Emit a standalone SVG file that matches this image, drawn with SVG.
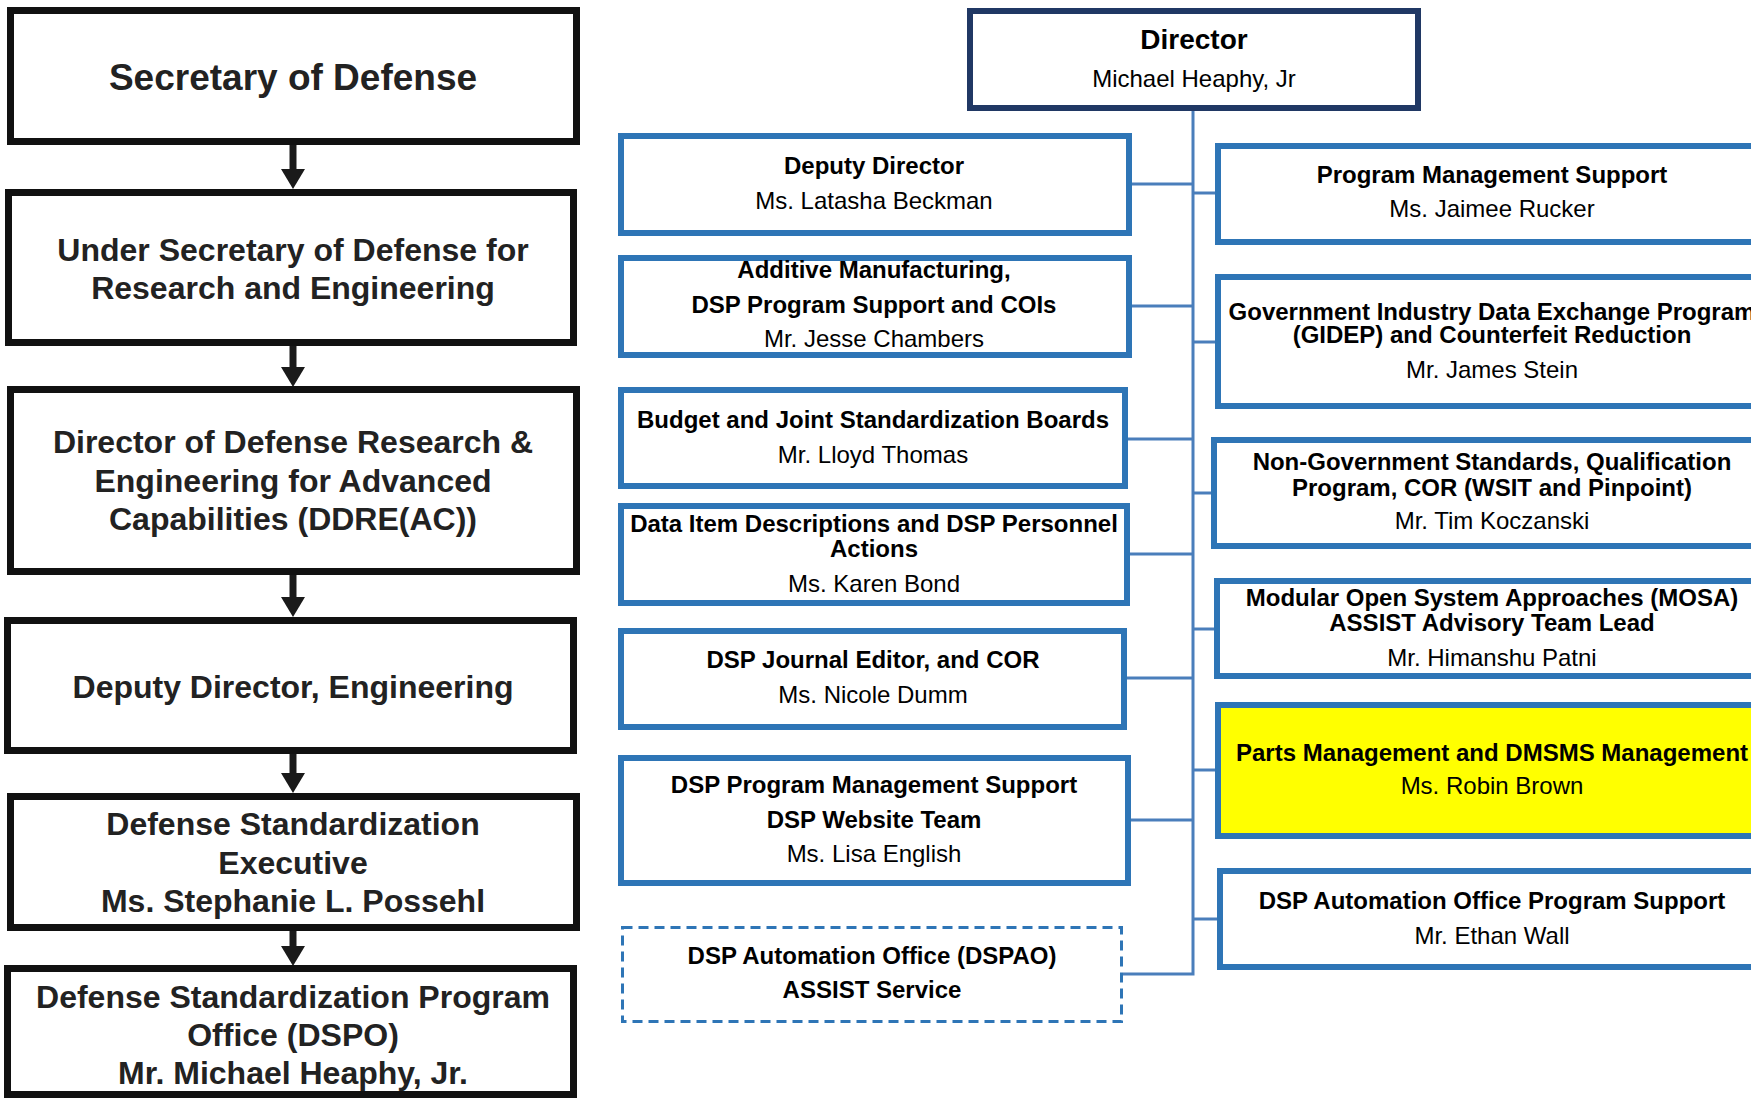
<svg xmlns="http://www.w3.org/2000/svg" width="1751" height="1098" viewBox="0 0 1751 1098">
<defs>
<style>
.lbox{fill:#fff;stroke:#111;stroke-width:7}
.bbox{fill:#fff;stroke:#2e75b6;stroke-width:6}
.dash{fill:#fff;stroke:#2e75b6;stroke-width:3;stroke-dasharray:10 6}
.dir{fill:#fff;stroke:#203864;stroke-width:6}
.lt{font-family:"Liberation Sans",Arial,sans-serif;font-weight:bold;font-size:32px;fill:#222;text-anchor:middle}
.bt{font-family:"Liberation Sans",Arial,sans-serif;font-weight:bold;font-size:24px;fill:#000;text-anchor:middle}
.nt{font-family:"Liberation Sans",Arial,sans-serif;font-size:24px;fill:#000;text-anchor:middle}
.arr{stroke:#1a1a1a;stroke-width:7;fill:none}
.con{stroke:#4a7ebb;stroke-width:3;fill:none}
</style>
<marker id="ah" markerUnits="userSpaceOnUse" viewBox="0 0 20 24" markerWidth="20" markerHeight="24" refX="0" refY="12" orient="auto">
<path d="M0,0 L20,12 L0,24 Z" fill="#1a1a1a"/>
</marker>
</defs>
<rect width="1751" height="1098" fill="#fff"/>

<g id="connectors">
<line class="arr" x1="293" y1="145" x2="293" y2="169" marker-end="url(#ah)"/>
<line class="arr" x1="293" y1="346" x2="293" y2="367" marker-end="url(#ah)"/>
<line class="arr" x1="293" y1="575" x2="293" y2="597" marker-end="url(#ah)"/>
<line class="arr" x1="293" y1="754" x2="293" y2="773" marker-end="url(#ah)"/>
<line class="arr" x1="293" y1="931" x2="293" y2="946" marker-end="url(#ah)"/>
<polyline class="con" points="1193,111 1193,974 1123,974"/>
<line class="con" x1="1132" y1="184" x2="1193" y2="184"/>
<line class="con" x1="1132" y1="306" x2="1193" y2="306"/>
<line class="con" x1="1128" y1="439" x2="1193" y2="439"/>
<line class="con" x1="1130" y1="554" x2="1193" y2="554"/>
<line class="con" x1="1127" y1="678" x2="1193" y2="678"/>
<line class="con" x1="1131" y1="820" x2="1193" y2="820"/>
<line class="con" x1="1193" y1="193" x2="1215" y2="193"/>
<line class="con" x1="1193" y1="342" x2="1215" y2="342"/>
<line class="con" x1="1193" y1="493" x2="1211" y2="493"/>
<line class="con" x1="1193" y1="629" x2="1214" y2="629"/>
<line class="con" x1="1193" y1="770" x2="1215" y2="770"/>
<line class="con" x1="1193" y1="919" x2="1217" y2="919"/>
</g>

<g id="secdef">
<rect class="lbox" x="10.5" y="10.5" width="566" height="131"/>
<text class="lt" x="293" y="90" style="font-size:37px">Secretary of Defense</text>
</g>
<g id="usdre">
<rect class="lbox" x="8.5" y="192.5" width="565" height="150"/>
<text class="lt" x="293" y="261">Under Secretary of Defense for</text>
<text class="lt" x="293" y="299">Research and Engineering</text>
</g>
<g id="ddre">
<rect class="lbox" x="10.5" y="389.5" width="566" height="182"/>
<text class="lt" x="293" y="453">Director of Defense Research &amp;</text>
<text class="lt" x="293" y="492">Engineering for Advanced</text>
<text class="lt" x="293" y="530">Capabilities (DDRE(AC))</text>
</g>
<g id="dde">
<rect class="lbox" x="7.5" y="620.5" width="566" height="130"/>
<text class="lt" x="293" y="698">Deputy Director, Engineering</text>
</g>
<g id="dse">
<rect class="lbox" x="10.5" y="796.5" width="566" height="131"/>
<text class="lt" x="293" y="835">Defense Standardization</text>
<text class="lt" x="293" y="874">Executive</text>
<text class="lt" x="293" y="912">Ms. Stephanie L. Possehl</text>
</g>
<g id="dspo">
<rect class="lbox" x="7.5" y="968.5" width="566" height="126"/>
<text class="lt" x="293" y="1008">Defense Standardization Program</text>
<text class="lt" x="293" y="1046">Office (DSPO)</text>
<text class="lt" x="293" y="1084">Mr. Michael Heaphy, Jr.</text>
</g>

<g id="director">
<rect class="dir" x="970" y="11" width="448" height="97"/>
<text class="bt" x="1194" y="49" style="font-size:28px">Director</text>
<text class="nt" x="1194" y="87">Michael Heaphy, Jr</text>
</g>

<g id="deputy">
<rect class="bbox" x="621" y="136" width="508" height="97"/>
<text class="bt" x="874" y="174">Deputy Director</text>
<text class="nt" x="874" y="209">Ms. Latasha Beckman</text>
</g>
<g id="additive">
<rect class="bbox" x="621" y="258" width="508" height="97"/>
<text class="bt" x="874" y="278">Additive Manufacturing,</text>
<text class="bt" x="874" y="313">DSP Program Support and COIs</text>
<text class="nt" x="874" y="347">Mr. Jesse Chambers</text>
</g>
<g id="budget">
<rect class="bbox" x="621" y="390" width="504" height="96"/>
<text class="bt" x="873" y="428">Budget and Joint Standardization Boards</text>
<text class="nt" x="873" y="463">Mr. Lloyd Thomas</text>
</g>
<g id="dataitem">
<rect class="bbox" x="621" y="506" width="506" height="97"/>
<text class="bt" x="874" y="532">Data Item Descriptions and DSP Personnel</text>
<text class="bt" x="874" y="557">Actions</text>
<text class="nt" x="874" y="592">Ms. Karen Bond</text>
</g>
<g id="journal">
<rect class="bbox" x="621" y="631" width="503" height="96"/>
<text class="bt" x="873" y="668">DSP Journal Editor, and COR</text>
<text class="nt" x="873" y="703">Ms. Nicole Dumm</text>
</g>
<g id="dsppms">
<rect class="bbox" x="621" y="758" width="507" height="125"/>
<text class="bt" x="874" y="793">DSP Program Management Support</text>
<text class="bt" x="874" y="828">DSP Website Team</text>
<text class="nt" x="874" y="862">Ms. Lisa English</text>
</g>
<g id="dspao">
<rect class="dash" x="622.5" y="927.5" width="499" height="94"/>
<text class="bt" x="872" y="964">DSP Automation Office (DSPAO)</text>
<text class="bt" x="872" y="998">ASSIST Service</text>
</g>

<g id="pms">
<rect class="bbox" x="1218" y="146" width="550" height="96"/>
<text class="bt" x="1492" y="183">Program Management Support</text>
<text class="nt" x="1492" y="217">Ms. Jaimee Rucker</text>
</g>
<g id="gidep">
<rect class="bbox" x="1218" y="277" width="550" height="129"/>
<text class="bt" x="1492" y="320">Government Industry Data Exchange Program</text>
<text class="bt" x="1492" y="343">(GIDEP) and Counterfeit Reduction</text>
<text class="nt" x="1492" y="378">Mr. James Stein</text>
</g>
<g id="nongov">
<rect class="bbox" x="1214" y="440" width="554" height="106"/>
<text class="bt" x="1492" y="470">Non-Government Standards, Qualification</text>
<text class="bt" x="1492" y="496">Program, COR (WSIT and Pinpoint)</text>
<text class="nt" x="1492" y="529">Mr. Tim Koczanski</text>
</g>
<g id="mosa">
<rect class="bbox" x="1217" y="581" width="551" height="95"/>
<text class="bt" x="1492" y="606">Modular Open System Approaches (MOSA)</text>
<text class="bt" x="1492" y="631">ASSIST Advisory Team Lead</text>
<text class="nt" x="1492" y="666">Mr. Himanshu Patni</text>
</g>
<g id="parts">
<rect class="bbox" x="1218" y="705" width="550" height="131" style="fill:#ffff00"/>
<text class="bt" x="1492" y="761">Parts Management and DMSMS Management</text>
<text class="nt" x="1492" y="794">Ms. Robin Brown</text>
</g>
<g id="dspaops">
<rect class="bbox" x="1220" y="871" width="548" height="96"/>
<text class="bt" x="1492" y="909">DSP Automation Office Program Support</text>
<text class="nt" x="1492" y="944">Mr. Ethan Wall</text>
</g>
</svg>
